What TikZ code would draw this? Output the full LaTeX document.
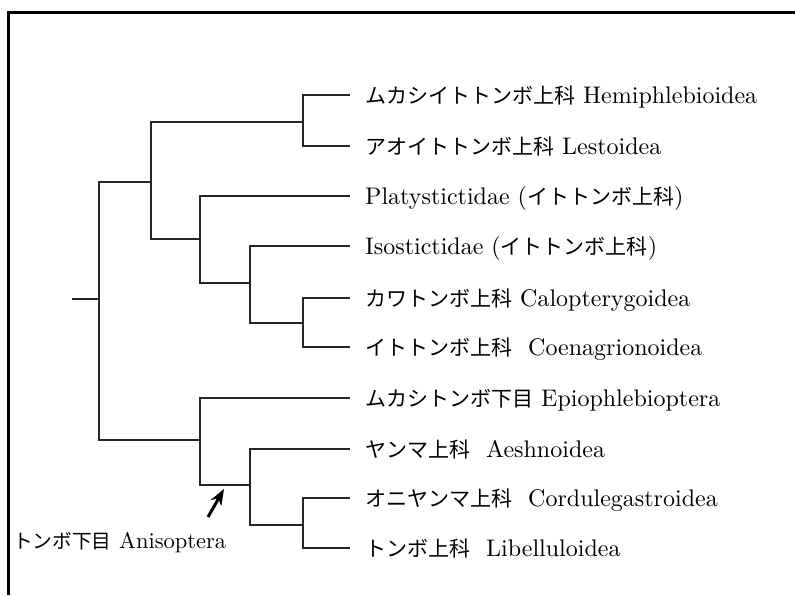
\documentclass[tikz,border=0pt]{standalone}
\usepackage{fontspec}
\setmainfont{lmroman10-regular}[Extension=.otf, BoldFont=lmroman10-bold]
\newfontfamily\jp[Scale=0.875]{Noto Sans CJK JP}
\usetikzlibrary{arrows.meta}

\begin{document}
\begin{tikzpicture}[
  x=1pt, y=-1pt,
  leaf/.style={anchor=west, inner xsep=15pt, inner ysep=0pt, text height=16pt, text depth=0pt, font=\fontsize{24}{28}\selectfont},
  branch/.style={line width=1.2pt, black!85},
  frame/.style={line width=3pt, line join=miter},
  pointer/.style={-{Stealth[length=16pt, width=12pt, inset=5pt]}, line width=3pt}
]
\useasboundingbox (0,0) rectangle (795,595);
\draw[frame] (795,12) -- (8,12) -- (8,595);

\coordinate (stem) at (72,299);
\coordinate (root) at (99,299);
\coordinate (zygo) at (151,182);
\coordinate (hemles) at (303,122);
\coordinate (coen) at (200,239);
\coordinate (isocoen) at (250,283);
\coordinate (calcoen) at (303,323);
\coordinate (aniso) at (200,440);
\coordinate (aeslib) at (250,485);
\coordinate (corlib) at (303,525);

\node[leaf] (hemi) at (350,95) {{\jp ムカシイトトンボ上科} Hemiphlebioidea};
\node[leaf] (lest) at (350,146) {{\jp アオイトトンボ上科} Lestoidea};
\node[leaf] (platy) at (350,196) {Platystictidae ({\jp イトトンボ上科})};
\node[leaf] (iso) at (350,246) {Isostictidae ({\jp イトトンボ上科})};
\node[leaf] (calo) at (350,298) {{\jp カワトンボ上科} Calopterygoidea};
\node[leaf] (coena) at (350,347) {{\jp イトトンボ上科}\ \ Coenagrionoidea};
\node[leaf] (epio) at (350,398) {{\jp ムカシトンボ下目} Epiophlebioptera};
\node[leaf] (aesh) at (350,449) {{\jp ヤンマ上科}\ \ Aeshnoidea};
\node[leaf] (cord) at (350,498) {{\jp オニヤンマ上科}\ \ Cordulegastroidea};
\node[leaf] (libe) at (350,548) {{\jp トンボ上科}\ \ Libelluloidea};
\node[leaf, inner xsep=0pt, font=\fontsize{22.5}{26}\selectfont] (anilabel) at (13,540) {{\jp トンボ下目} Anisoptera};

\draw[branch] (stem) -- (root);
\draw[branch] (root) |- (zygo);
\draw[branch] (root) |- (aniso);
\draw[branch] (zygo) |- (hemles);
\draw[branch] (zygo) |- (coen);
\draw[branch] (hemles) |- (hemi.west);
\draw[branch] (hemles) |- (lest.west);
\draw[branch] (coen) |- (platy.west);
\draw[branch] (coen) |- (isocoen);
\draw[branch] (isocoen) |- (iso.west);
\draw[branch] (isocoen) |- (calcoen);
\draw[branch] (calcoen) |- (calo.west);
\draw[branch] (calcoen) |- (coena.west);
\draw[branch] (aniso) |- (epio.west);
\draw[branch] (aniso) |- (aeslib);
\draw[branch] (aeslib) |- (aesh.west);
\draw[branch] (aeslib) |- (corlib);
\draw[branch] (corlib) |- (cord.west);
\draw[branch] (corlib) |- (libe.west);

\coordinate (tail) at (208,517);
\coordinate (tip) at (224,489);
\draw[pointer] (tail) -- (tip);

\end{tikzpicture}
\end{document}
